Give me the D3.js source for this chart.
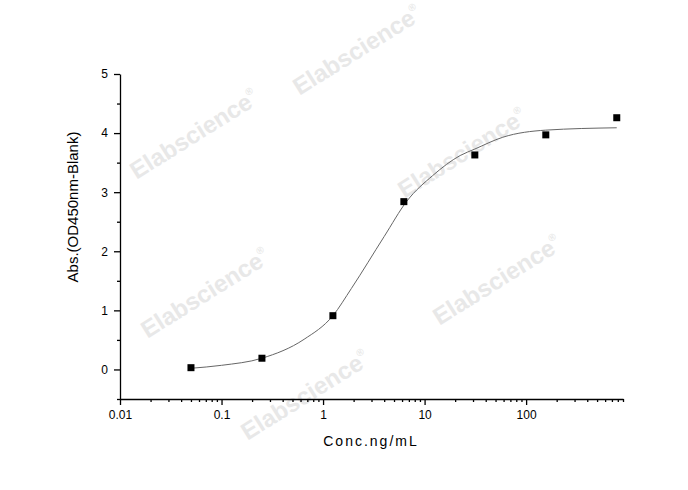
<!DOCTYPE html>
<html>
<head>
<meta charset="utf-8">
<script src="https://cdn.jsdelivr.net/npm/d3@7"></script>
<style>
  body { margin: 0; background: #fff; }
  svg { font-family: Arial, "Liberation Sans", sans-serif; }
</style>
</head>
<body>
<div id="chart"></div>
<script>
// measured points
const conc = [0.05, 0.25, 1.25, 6.25, 31.25, 156.25, 781.25]
const absVals = [0.03, 0.19, 0.91, 2.84, 3.63, 3.97, 4.26]

// fitted curve
const curveConc = [0.05, 0.1, 0.25, 0.65, 1.25, 1.9, 4, 6.7, 12, 22.4, 31.25, 59, 156, 781]
const curveAbs = [0.02, 0.07, 0.19, 0.51, 0.91, 1.37, 2.25, 2.85, 3.28, 3.62, 3.73, 3.93, 4.05, 4.09]

const xTicks = [0.01, 0.1, 1, 10, 100]
const yTicks = [0, 1, 2, 3, 4, 5]

const watermarks = [[357, 50], [194, 134], [462, 153], [205, 293], [497, 280], [305, 395]]

let fullWidth = 688
let fullHeight = 490

var svg = d3.select('#chart').append('svg')
    .attr('width', fullWidth)
    .attr('height', fullHeight)

// watermark text
svg.append('g')
    .selectAll('text')
    .data(watermarks)
    .enter()
    .append('text')
    .attr('transform', d => 'translate(' + d[0] + ',' + d[1] + ') rotate(-32)')
    .attr('text-anchor', 'middle')
    .attr('dy', '0.35em')
    .attr('font-size', 24)
    .attr('font-weight', 'bold')
    .attr('fill', '#e8e8e8')
    .text('Elabscience')
    .append('tspan')
    .attr('font-size', 10)
    .attr('dy', '-1.2em')
    .text('®')

var x = d3.scaleLog().domain([0.01, 900]).range([120, 623])
var y = d3.scaleLinear().domain([-0.5, 5]).range([399, 74])

// minor ticks for x
let minorX = []
for (let p = -2; p <= 2; p++) {
    for (let m = 2; m <= 9; m++) {
        let v = m * Math.pow(10, p)
        if (v <= 900) minorX.push(v)
    }
}

svg.append('g')
    .attr('transform', 'translate(0,' + y.range()[0] + ')')
    .call(d3.axisBottom(x).tickValues(minorX).tickSize(3).tickFormat(''))
    .call(g => g.select('.domain').remove())

svg.append('g')
    .attr('class', 'x-axis')
    .attr('transform', 'translate(0,' + y.range()[0] + ')')
    .call(d3.axisBottom(x).tickValues(xTicks).tickSize(6).tickSizeOuter(0).tickPadding(5)
        .tickFormat(d => d3.format('~g')(d)))

// y axis with half-unit minor ticks
svg.append('g')
    .attr('transform', 'translate(' + x.range()[0] + ',0)')
    .call(d3.axisLeft(y).tickValues([-0.5, 0.5, 1.5, 2.5, 3.5, 4.5]).tickSize(3).tickFormat(''))
    .call(g => g.select('.domain').remove())

svg.append('g')
    .attr('class', 'y-axis')
    .attr('transform', 'translate(' + x.range()[0] + ',0)')
    .call(d3.axisLeft(y).tickValues(yTicks).tickSize(6).tickSizeOuter(0).tickPadding(6)
        .tickFormat(d3.format('d')))

svg.selectAll('.domain, .tick line').attr('stroke', '#000').attr('stroke-width', 1.3)
svg.selectAll('.tick text').attr('font-size', 12).attr('fill', '#000')

// fitted line
svg.append('path')
    .datum(d3.zip(curveConc, curveAbs))
    .attr('fill', 'none')
    .attr('stroke', '#666')
    .attr('stroke-width', 1)
    .attr('d', d3.line()
        .x(d => x(d[0]))
        .y(d => y(d[1]))
        .curve(d3.curveMonotoneX))

// points
svg.append('g')
    .attr('class', 'points')
    .selectAll('rect')
    .data(d3.zip(conc, absVals))
    .enter()
    .append('rect')
    .attr('x', d => x(d[0]) - 3.5)
    .attr('y', d => y(d[1]) - 3.5)
    .attr('width', 7)
    .attr('height', 7)
    .attr('fill', '#000')

// axis titles
svg.append('text')
    .attr('x', 371)
    .attr('y', 446)
    .attr('text-anchor', 'middle')
    .attr('font-size', 14)
    .attr('letter-spacing', 2)
    .text('Conc.ng/mL')

svg.append('text')
    .attr('transform', 'translate(78,207) rotate(-90)')
    .attr('text-anchor', 'middle')
    .attr('font-size', 15)
    .text('Abs.(OD450nm-Blank)')
</script>
</body>
</html>
